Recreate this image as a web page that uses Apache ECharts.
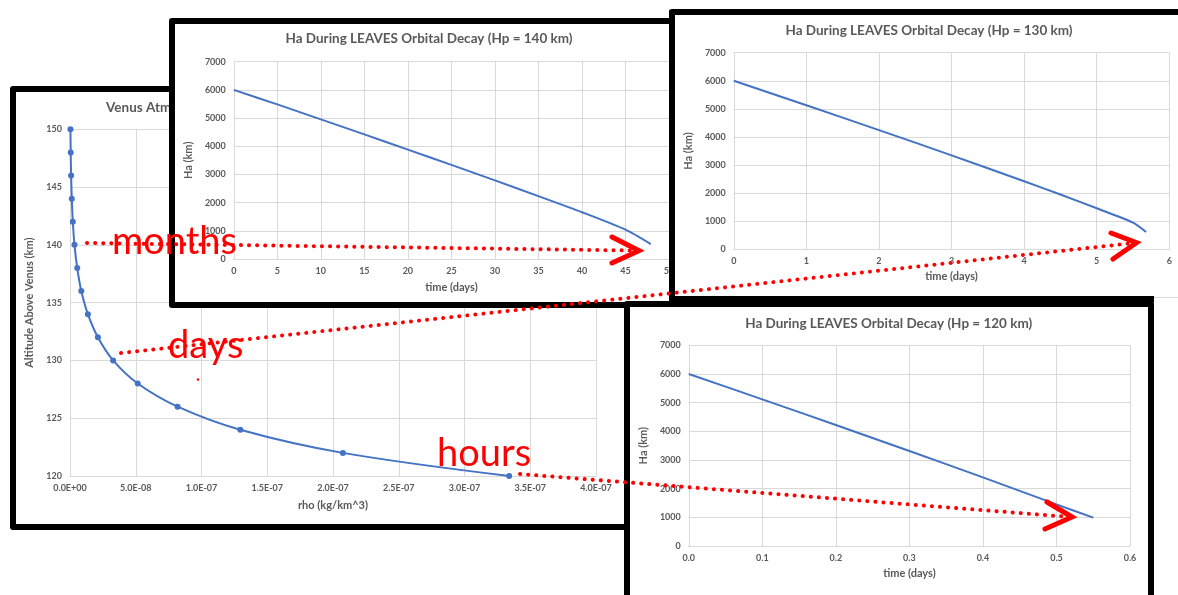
<!DOCTYPE html>
<html><head><meta charset="utf-8">
<script src="https://cdn.jsdelivr.net/npm/echarts@6/dist/echarts.min.js"></script>
<style>
html,body{margin:0;padding:0;width:1178px;height:595px;overflow:hidden;background:#fff;}
.panel{position:absolute;background:#fff;border:6px solid #000;border-radius:3px;box-sizing:content-box;overflow:hidden;}
#overlay{position:absolute;left:0;top:0;width:1178px;height:595px;z-index:10;pointer-events:none;}
</style></head><body>
<div id="venus" class="panel" style="left:10px;top:86px;width:623px;height:432px;z-index:1"></div>
<div id="p140" class="panel" style="left:169px;top:18px;width:519px;height:278px;z-index:2"></div>
<div id="p130" class="panel" style="left:669px;top:9px;width:540px;height:282px;z-index:3;border-bottom:1px solid #d9d9d9;"></div>
<div style="position:absolute;left:669px;top:296px;width:485px;height:6px;background:#000;z-index:3"></div>
<div id="p120" class="panel" style="left:624px;top:301px;width:518px;height:300px;z-index:4"></div>
<div id="overlay"></div>
<script>
// ---------- data ----------
const venusAlt = [150,148,146,144,142,140,138,136,134,132,130,128,126,124,122,120];
const venusRho = [0.34e-9,0.54e-9,0.86e-9,1.36e-9,2.15e-9,3.4e-9,5.5e-9,8.6e-9,13.6e-9,21.2e-9,32.8e-9,51.5e-9,81.8e-9,129.5e-9,207.5e-9,334e-9];

const hp140Days = [0,5,10,15,20,25,30,35,40,45,47.9];
const hp140Ha   = [6000,5485,4955,4420,3880,3340,2790,2230,1660,1040,530];

const hp130Days = [0,1,2,3,4,4.5,5,5.5,5.68];
const hp130Ha   = [6000,5130,4245,3345,2425,1950,1460,950,617];

const hp120Days = [0,0.1,0.2,0.3,0.4,0.5,0.55];
const hp120Ha   = [6000,5115,4220,3315,2395,1450,988];

const titles = {
  venus: 'Venus Atmospheric Density',
  p140: 'Ha During LEAVES Orbital Decay (Hp = 140 km)',
  p130: 'Ha During LEAVES Orbital Decay (Hp = 130 km)',
  p120: 'Ha During LEAVES Orbital Decay (Hp = 120 km)'
};
const notes = ['months','days','hours'];

// ---------- style ----------
const GRIDC = '#D9D9D9', TXT = '#595959', BLUE = '#4472C4', RED = '#FF0000';
const FONT = 'Lato, "Open Sans", sans-serif';

function axis(o){
  return {
    type:'value', min:o.min, max:o.max, interval:o.interval,
    name:o.name, nameLocation:'middle', nameGap:o.nameGap,
    nameTextStyle:{color:TXT,fontSize:11,fontWeight:'bold',fontFamily:FONT},
    axisLine:{show:true,lineStyle:{color:GRIDC,width:1}},
    axisTick:{show:false},
    splitLine:{show:true,lineStyle:{color:GRIDC,width:1}},
    axisLabel:{color:TXT,fontSize:9,fontWeight:'bold',fontFamily:FONT,margin:o.margin,
      formatter:o.formatter || (v => String(v))}
  };
}
function titleOpt(text,cx,cy,align){
  return {text:text,left:cx,top:cy-7,textAlign:align||'center',padding:0,
    textStyle:{color:TXT,fontSize:13.5,fontWeight:'bold',fontFamily:FONT}};
}
function sci(v){
  const s = Number(v).toExponential(1);
  const parts = s.split('e');
  const n = parseInt(parts[1],10);
  return parts[0] + 'E' + (n<0?'-':'+') + String(Math.abs(n)).padStart(2,'0');
}
function pairs(xs,ys){ return xs.map((x,i)=>[x,ys[i]]); }

// ---------- Venus chart ----------
const cv = echarts.init(document.getElementById('venus'));
cv.setOption({
  animation:false,
  title: titleOpt(titles.venus, 90, 16, 'left'),
  grid:{left:54,top:37.3,width:526,height:346.7,containLabel:false},
  xAxis: axis({min:0,max:4e-7,interval:5e-8,name:'rho (kg/km^3)',nameGap:23.5,margin:7.5,formatter:sci}),
  yAxis: axis({min:120,max:150,interval:5,name:'Altitude Above Venus (km)',nameGap:29.5,margin:8}),
  series:[{type:'line',data:pairs(venusRho,venusAlt),smooth:0.35,symbol:'circle',symbolSize:6,showAllSymbol:true,
    lineStyle:{color:BLUE,width:2},itemStyle:{color:BLUE}}]
});

function decay(id,title,days,ha,g,xmax,xint,fmt,tc){
  const c = echarts.init(document.getElementById(id));
  c.setOption({
    animation:false,
    title: titleOpt(title, tc[0], tc[1]),
    grid:{left:g[0],top:g[1],width:g[2],height:g[3],containLabel:false},
    xAxis: axis({min:0,max:xmax,interval:xint,name:'time (days)',nameGap:g[4],margin:7.5,formatter:fmt}),
    yAxis: axis({min:0,max:7000,interval:1000,name:'Ha (km)',nameGap:31.5,margin:8}),
    series:[{type:'line',data:pairs(days,ha),smooth:0.25,symbol:'none',lineStyle:{color:BLUE,width:2}}]
  });
}
decay('p140',titles.p140,hp140Days,hp140Ha,[56,37.7,438,197.3,22.5],50,5,null,[254,15]);
decay('p130',titles.p130,hp130Days,hp130Ha,[56.3,37.7,438,196.6,22],6,1,null,[254,15.7]);
decay('p120',titles.p120,hp120Days,hp120Ha,[57.6,38.3,442.4,200.7,22],0.6,0.1,v=>Number(v).toFixed(1),[258.7,16.3]);

// ---------- annotations overlay ----------
const co = echarts.init(document.getElementById('overlay'));
function dotted(x1,y1,x2,y2){
  return {type:'line',shape:{x1:x1,y1:y1,x2:x2,y2:y2},
    style:{stroke:RED,lineWidth:4,lineDash:[0.1,8],lineCap:'round'},z:10};
}
function chevron(pts){
  return {type:'polyline',shape:{points:pts},style:{stroke:RED,lineWidth:5,fill:null,lineCap:'round',lineJoin:'miter'},z:11};
}
function note(t,x,y){
  return {type:'text',x:x,y:y,style:{text:t,fill:RED,fontSize:38,fontFamily:FONT,textVerticalAlign:'middle',textAlign:'left'},z:12};
}
co.setOption({
  graphic:[
    dotted(87,243,631,250.5),
    chevron([[612,237],[639,250.7],[612,263]]),
    dotted(121,353,1129,243.5),
    chevron([[1111,233],[1136.5,242.7],[1113,259]]),
    dotted(520,474,1064,516.5),
    chevron([[1047,502],[1072,517],[1045,529]]),
    note(notes[0],112,242),
    note(notes[1],168,345.5),
    note(notes[2],437,453.5),
    {type:'circle',shape:{cx:198,cy:379.5,r:1.2},style:{fill:RED},z:12}
  ]
});
</script>
</body></html>
